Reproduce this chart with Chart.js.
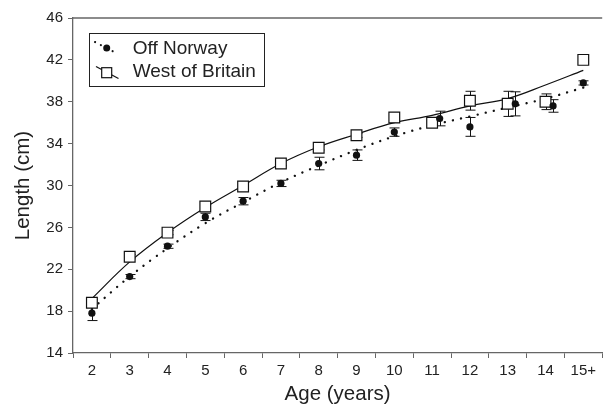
<!DOCTYPE html>
<html><head><meta charset="utf-8">
<script src="https://cdn.jsdelivr.net/npm/chart.js@4/dist/chart.umd.min.js"></script>
<style>html,body{margin:0;padding:0;overflow:hidden;background:#fff}#wrap{width:611px;height:405px;position:relative}</style>
</head><body><div id="wrap"><canvas id="c"></canvas></div>
<script>
// ---- data ----
const ageLabels = ['2','3','4','5','6','7','8','9','10','11','12','13','14','15+'];
const agePos = [2,3,4,5,6,7,8,9,10,11,12,13,14,15];
const norwayDodge = [0,0,0,0,0,0,0,0,0,0.2,0,0.2,0.2,0];
const norwayMean = [17.8,21.3,24.2,27.0,28.5,30.2,32.1,32.9,35.1,36.4,35.6,37.8,37.6,39.8];
const norwayErr  = [0.7,0.2,0.2,0.35,0.35,0.3,0.6,0.5,0.4,0.7,0.9,1.15,0.6,0.2];
const britainMean = [18.8,23.2,25.5,28.0,29.9,32.1,33.6,34.8,36.5,36.0,38.1,37.8,38.0,42.0];
const britainErr  = [0.3,0.2,0.2,0.2,0.2,0.2,0.2,0.2,0.3,0.3,0.9,1.2,0.75,0.2];
const norwayFit  = [18.2,21.3,24.0,26.4,28.4,30.3,31.9,33.4,34.7,35.75,36.6,37.45,38.3,39.35];
const britainFit = [19.2,22.7,25.5,27.9,30.0,32.1,33.7,34.9,36.0,36.7,37.6,38.3,39.6,41.0];
const yTicks = {min:14, max:46, step:4};

const FONT = "'Liberation Sans', Arial, sans-serif";
const AX = '#666';
const TXT = '#222';
const INK = '#111';

const pts = (xs, ys) => xs.map((x,i)=>({x:x, y:ys[i]}));

const extras = {
  id:'extras',
  beforeDatasetsDraw(chart){
    const ctx = chart.ctx, ys = chart.scales.y, xs = chart.scales.xl;
    ctx.save();
    ctx.strokeStyle = INK; ctx.lineWidth = 1;
    chart.data.datasets.forEach(ds=>{
      if(!ds.errors) return;
      ds.data.forEach((p,i)=>{
        const e = ds.errors[i];
        const px = Math.round(xs.getPixelForValue(p.x))+0.5;
        const y1 = ys.getPixelForValue(p.y+e), y2 = ys.getPixelForValue(p.y-e);
        ctx.beginPath();
        ctx.moveTo(px,y1); ctx.lineTo(px,y2);
        ctx.moveTo(px-5,y1); ctx.lineTo(px+5,y1);
        ctx.moveTo(px-5,y2); ctx.lineTo(px+5,y2);
        ctx.stroke();
      });
    });
    ctx.restore();
  },
  afterDraw(chart){
    const ctx = chart.ctx, a = chart.chartArea;
    ctx.save();
    ctx.strokeStyle = AX; ctx.lineWidth = 1.3;
    ctx.beginPath(); ctx.moveTo(a.left, a.top); ctx.lineTo(a.right, a.top); ctx.stroke();
    ctx.fillStyle = TXT;
    ctx.font = "20.5px " + FONT;
    ctx.textAlign = 'center'; ctx.textBaseline = 'alphabetic';
    ctx.fillText('Age (years)', (a.left+a.right)/2, 400);
    ctx.save();
    ctx.translate(29, (a.top+a.bottom)/2);
    ctx.rotate(-Math.PI/2);
    ctx.fillText('Length (cm)', 0, 0);
    ctx.restore();
    ctx.strokeStyle = '#222'; ctx.lineWidth = 1;
    ctx.strokeRect(89.5, 33.5, 175, 53);
    ctx.strokeStyle = INK; ctx.lineWidth = 2.1; ctx.lineCap = 'round';
    ctx.setLineDash([0.1, 6.5]);
    ctx.beginPath(); ctx.moveTo(95,42); ctx.lineTo(117,53.5); ctx.stroke();
    ctx.setLineDash([]); ctx.lineCap = 'butt';
    ctx.fillStyle = INK;
    ctx.beginPath(); ctx.arc(106.7,48,3.5,0,Math.PI*2); ctx.fill();
    ctx.lineWidth = 1.2;
    ctx.beginPath(); ctx.moveTo(96,66.5); ctx.lineTo(118.5,78.5); ctx.stroke();
    ctx.fillStyle = '#fff';
    ctx.fillRect(101.7,67.7,10,10);
    ctx.strokeRect(101.7,67.7,10,10);
    ctx.fillStyle = TXT;
    ctx.font = "19px " + FONT;
    ctx.textAlign = 'left';
    ctx.fillText('Off Norway', 132.7, 54);
    ctx.fillText('West of Britain', 132.7, 77.3);
    ctx.restore();
  }
};

new Chart(document.getElementById('c'), {
  type:'line',
  data:{
    labels: ageLabels,
    datasets:[
      {label:'Off Norway', xAxisID:'xl', data: pts(agePos.map((a,i)=>a+norwayDodge[i]), norwayMean), errors: norwayErr,
       showLine:false, pointStyle:'circle', pointRadius:3.6, pointBackgroundColor:INK, pointBorderColor:INK, pointBorderWidth:0, order:0},
      {label:'West of Britain', xAxisID:'xl', data: pts(agePos, britainMean), errors: britainErr,
       showLine:false, pointStyle:'rect', pointRadius:7.6, pointBackgroundColor:'#fff', pointBorderColor:INK, pointBorderWidth:1.2, order:1},
      {label:'Off Norway fit', xAxisID:'xl', data: pts(agePos, norwayFit), pointRadius:0, borderColor:INK,
       borderWidth:2.3, borderDash:[0.1,8.3], borderCapStyle:'round', tension:0.4, fill:false, order:2},
      {label:'West of Britain fit', xAxisID:'xl', data: pts(agePos, britainFit), pointRadius:0, borderColor:INK,
       borderWidth:1.2, tension:0.4, fill:false, order:3}
    ]
  },
  options:{
    responsive:true, maintainAspectRatio:false, animation:false, devicePixelRatio:1,
    layout:{padding:{top:18,left:0,right:0,bottom:0}},
    plugins:{legend:{display:false}, tooltip:{enabled:false}},
    scales:{
      x:{type:'category', position:'bottom', offset:true,
         grid:{offset:true, drawOnChartArea:false, drawTicks:true, tickLength:5, color:AX, lineWidth:1},
         border:{color:AX, width:1.3},
         ticks:{color:TXT, font:{family:FONT, size:15}, padding:4, maxRotation:0, autoSkip:false},
         afterFit(s){ s.height = 52; }},
      xl:{type:'linear', display:false, min:1.5, max:15.5},
      y:{type:'linear', position:'left', min:yTicks.min, max:yTicks.max,
         ticks:{stepSize:yTicks.step, color:TXT, font:{family:FONT, size:15}, padding:5},
         grid:{drawOnChartArea:false, tickLength:5, color:AX, lineWidth:1},
         border:{color:AX, width:1.3},
         afterFit(s){ s.width = 73; }}
    }
  },
  plugins:[extras]
});
</script>
</body></html>
